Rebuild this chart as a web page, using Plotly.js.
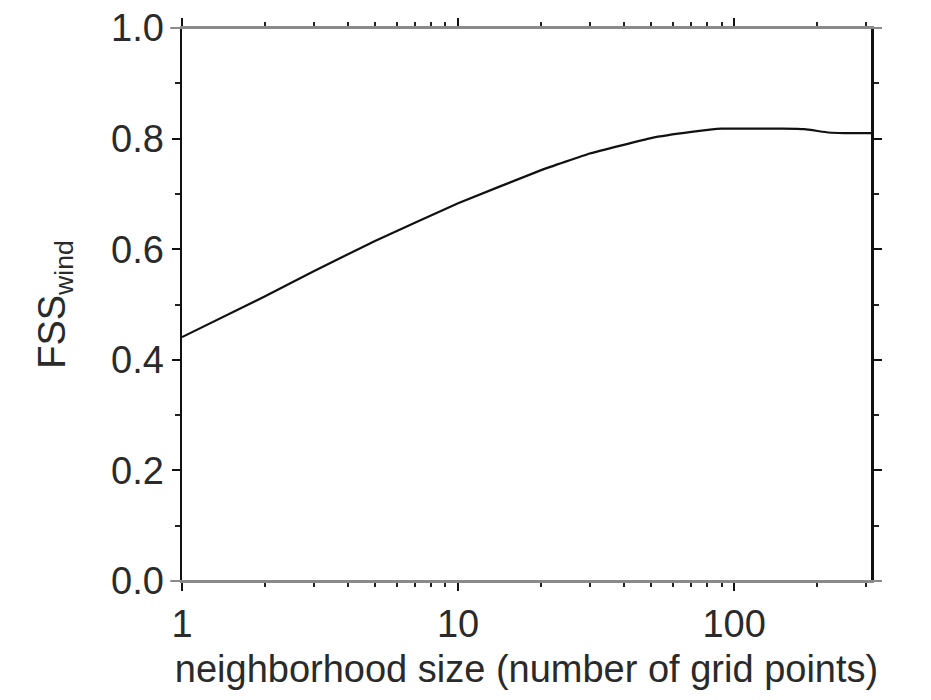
<!DOCTYPE html>
<html>
<head>
<meta charset="utf-8">
<script src="https://cdn.plot.ly/plotly-3.0.1.min.js"></script>
<style>html,body{margin:0;padding:0;background:#fff;}#chart{width:931px;height:700px;}</style>
</head>
<body>
<div id="chart"></div>
<script>
const neighborhoodSize = [1, 2, 3, 5, 10, 20, 30, 50, 70, 90, 120, 150, 180, 220, 250, 313];
const fssWind = [0.441, 0.515, 0.56, 0.615, 0.683, 0.743, 0.773, 0.801, 0.812, 0.818, 0.818, 0.818, 0.817, 0.811, 0.810, 0.810];
const yTickVals = [0, 0.2, 0.4, 0.6, 0.8, 1.0];
const yTickText = ["0.0", "0.2", "0.4", "0.6", "0.8", "1.0"];
const xTickVals = [1, 10, 100];
const xTickText = ["1", "10", "100"];

const font = {family: "'Liberation Sans', Arial, sans-serif", size: 38, color: "#2a2a2a"};

const trace = {
  x: neighborhoodSize, y: fssWind, type: 'scatter', mode: 'lines',
  line: {color: '#111', width: 2.2, shape: 'spline', smoothing: 0.3},
  hoverinfo: 'skip', showlegend: false
};

const layout = {
  width: 931, height: 700,
  margin: {l: 182, r: 60, t: 28, b: 119},
  paper_bgcolor: '#fff', plot_bgcolor: '#fff',
  font: font,
  showlegend: false,
  xaxis: {
    type: 'log', range: [0, Math.log10(313)],
    tickvals: xTickVals, ticktext: xTickText,
    ticks: 'outside', ticklen: 8, tickwidth: 2, tickcolor: '#111',
    showline: true, linecolor: '#8a8a8a', linewidth: 2, mirror: 'allticks',
    showgrid: false, zeroline: false,
    minor: {ticks: 'outside', ticklen: 4, tickwidth: 2, tickcolor: '#222', dtick: 'D1', showgrid: false},
    tickfont: font,
    title: {text: 'neighborhood size (number of grid points)', font: font, standoff: 12}
  },
  yaxis: {
    range: [0, 1.0],
    tickvals: yTickVals, ticktext: yTickText,
    ticks: 'outside', ticklen: 8, tickwidth: 2, tickcolor: '#111',
    showline: true, linecolor: '#111', linewidth: 2.5, mirror: 'allticks',
    showgrid: false, zeroline: false,
    minor: {ticks: 'outside', ticklen: 5, tickwidth: 2, tickcolor: '#222', dtick: 0.1, showgrid: false},
    tickfont: font,
    title: {text: 'FSS<sub>wind</sub>', font: font, standoff: 34}
  },
  shapes: [
    {type: 'line', xref: 'paper', yref: 'paper', x0: -0.017, x1: 1.016, y0: 1, y1: 1, line: {color: '#8a8a8a', width: 2}},
    {type: 'line', xref: 'paper', yref: 'paper', x0: -0.017, x1: 1.016, y0: 0, y1: 0, line: {color: '#8a8a8a', width: 2}}
  ]
};

Plotly.newPlot('chart', [trace], layout, {displayModeBar: false, staticPlot: true});
</script>
</body>
</html>
